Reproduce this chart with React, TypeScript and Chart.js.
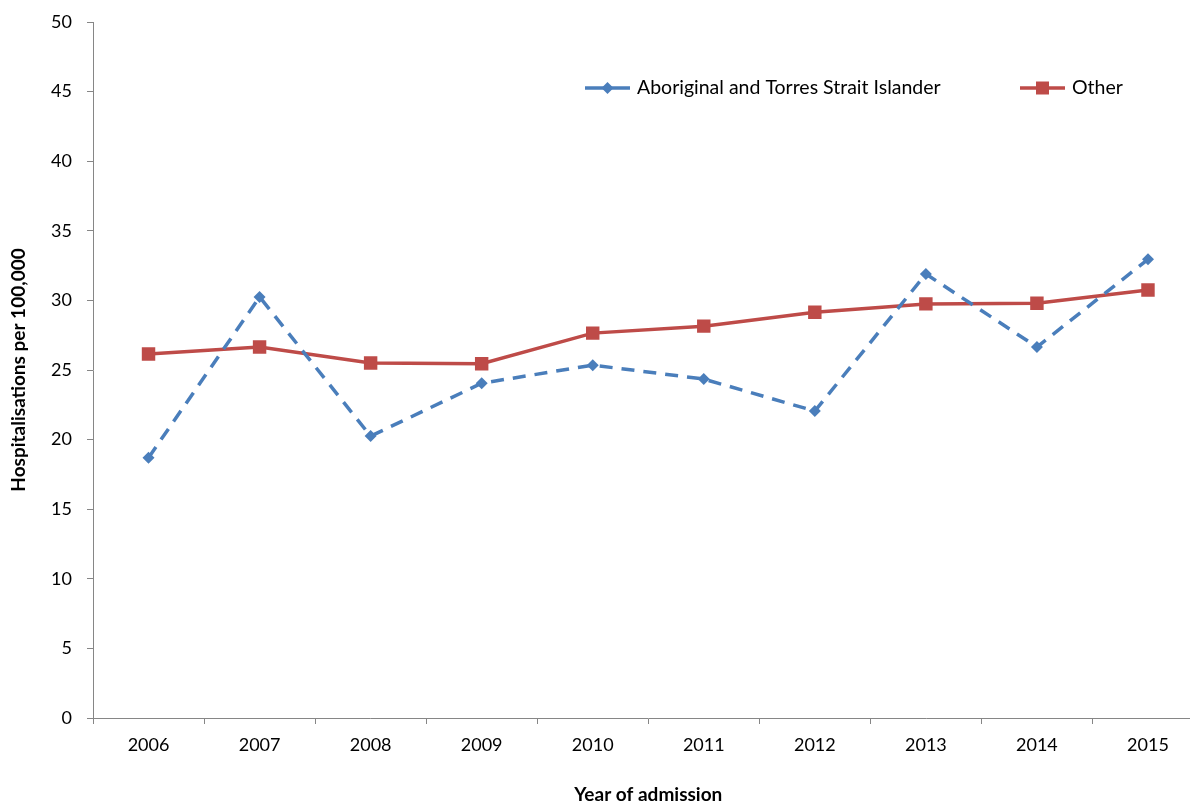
import React, { useEffect, useRef } from "react";
import { Chart, registerables } from "chart.js";

Chart.register(...registerables);

const years = ["2006", "2007", "2008", "2009", "2010", "2011", "2012", "2013", "2014", "2015"];
const aboriginal = [18.7, 30.25, 20.25, 24.05, 25.35, 24.35, 22.05, 31.9, 26.65, 32.95];
const other = [26.15, 26.65, 25.5, 25.45, 27.65, 28.15, 29.15, 29.75, 29.8, 30.75];
const seriesNames = ["Aboriginal and Torres Strait Islander", "Other"];
const xTitle = "Year of admission";
const yTitle = "Hospitalisations per 100,000";

const BLUE = "#4a7ebb";
const RED = "#be4b48";
const AXIS = "#868686";
const FONT = "Lato, 'Open Sans', sans-serif";
const CANVAS_W = 1213;

const legendPlugin = {
  id: "innerLegend",
  afterDraw(chart: any) {
    const ctx = chart.ctx;
    const items = [
      { x: 585, ds: chart.data.datasets[0], style: "diamond", r: 6 },
      { x: 1020, ds: chart.data.datasets[1], style: "square", r: 6.5 },
    ];
    const y = 88;
    ctx.save();
    items.forEach((it) => {
      ctx.beginPath();
      ctx.strokeStyle = it.ds.borderColor;
      ctx.lineWidth = 3.5;
      ctx.setLineDash([]);
      ctx.moveTo(it.x, y);
      ctx.lineTo(it.x + 45, y);
      ctx.stroke();
      ctx.fillStyle = it.ds.borderColor;
      const cx = it.x + 22.5;
      ctx.beginPath();
      if (it.style === "diamond") {
        ctx.moveTo(cx, y - it.r);
        ctx.lineTo(cx + it.r, y);
        ctx.lineTo(cx, y + it.r);
        ctx.lineTo(cx - it.r, y);
        ctx.closePath();
      } else {
        ctx.rect(cx - it.r, y - it.r, it.r * 2, it.r * 2);
      }
      ctx.fill();
      ctx.fillStyle = "#000";
      ctx.font = `19.5px ${FONT}`;
      ctx.textBaseline = "middle";
      ctx.textAlign = "left";
      ctx.fillText(it.ds.label, it.x + 52, y);
    });
    ctx.restore();
  },
};

export default function App() {
  const ref = useRef<HTMLCanvasElement>(null);
  useEffect(() => {
    document.body.style.margin = "0";
    const chart = new Chart(ref.current!, {
      type: "line",
      data: {
        labels: years,
        datasets: [
          {
            label: seriesNames[0],
            data: aboriginal,
            borderColor: BLUE,
            backgroundColor: BLUE,
            borderWidth: 3.5,
            borderDash: [13, 9],
            pointStyle: "rectRot",
            pointRadius: 6,
            pointBorderWidth: 0,
            tension: 0,
          },
          {
            label: seriesNames[1],
            data: other,
            borderColor: RED,
            backgroundColor: RED,
            borderWidth: 3.5,
            pointStyle: "rect",
            pointRadius: 9.5,
            pointBorderWidth: 0,
            tension: 0,
          },
        ],
      },
      options: {
        animation: false,
        responsive: false,
        layout: { padding: { left: 0, right: 4, top: 22, bottom: 0 } },
        plugins: { legend: { display: false }, tooltip: { enabled: false } },
        scales: {
          x: {
            offset: true,
            grid: { offset: true, drawOnChartArea: false, drawTicks: true, tickLength: 6, color: AXIS },
            border: { color: AXIS, width: 1 },
            ticks: { color: "#000", font: { family: FONT, size: 18 }, padding: 10, maxRotation: 0 },
            title: { display: true, text: xTitle, color: "#000", font: { family: FONT, size: 19, weight: "bold", lineHeight: 1 }, padding: { top: 0, bottom: -3.5 } },
            afterFit: (s: any) => { s.height = 83; s.paddingLeft = 0; s.paddingRight = 0; },
          },
          y: {
            min: 0,
            max: 50,
            ticks: { stepSize: 5, color: "#000", font: { family: FONT, size: 18 }, padding: 15 },
            grid: { drawOnChartArea: false, drawTicks: true, tickLength: 6, color: AXIS },
            border: { color: AXIS, width: 1 },
            title: { display: true, text: yTitle, color: "#000", font: { family: FONT, size: 19, weight: "bold", lineHeight: 1 }, padding: { top: 9.5, bottom: 4 } },
            afterFit: (s: any) => { s.width = 93; s.paddingTop = 0; s.paddingBottom = 0; },
          },
        },
      },
      plugins: [legendPlugin],
    });
    return () => chart.destroy();
  }, []);
  return (
    <div style={{ position: "absolute", left: 0, top: 0, width: 1190, height: 801, overflow: "hidden" }}>
      <canvas ref={ref} width={CANVAS_W} height={801} style={{ width: CANVAS_W, height: 801 }} />
    </div>
  );
}
